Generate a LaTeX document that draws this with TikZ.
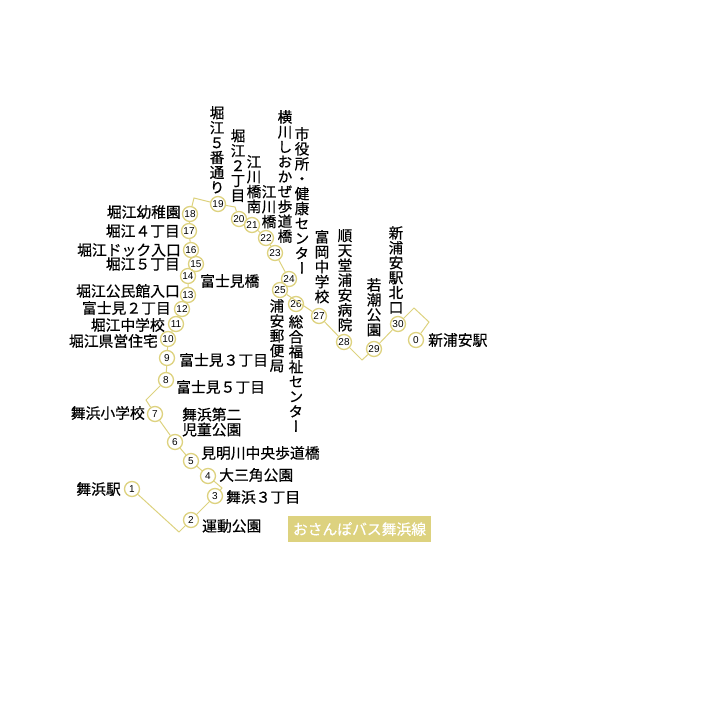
\documentclass[tikz,border=0pt]{standalone}
\usepackage{fontspec}
\newfontfamily\cjk[FakeBold=0.5]{Noto Sans CJK JP}
\newfontfamily\cjktate[RawFeature=+vert,FakeBold=0.5]{Noto Sans CJK JP}
\newfontfamily\numfont{Liberation Sans}
\definecolor{routecol}{HTML}{DDD27F}
\tikzset{
    stop/.style={draw=routecol, fill=white, circle, line width=1.3pt, minimum size=15pt, inner sep=0pt, font=\numfont\fontsize{10}{10}\selectfont},
    route/.style={draw=routecol, line width=1pt},
    yoko/.style={inner sep=0pt, font=\cjk\fontsize{14.8}{15}\selectfont, align=left},
    tate/.style={inner sep=0pt, anchor=north, font=\cjktate\fontsize{14.6}{14.9}\selectfont, align=center},
}
\begin{document}
\begin{tikzpicture}[x=1pt, y=-1pt]
    \useasboundingbox (0,0) rectangle (701,721);
    \foreach \n/\x/\y in {0/416/340, 1/132/489, 2/191/520, 3/215/496, 4/208/476, 5/191/461, 6/175/442, 7/155/414, 8/166/380, 9/167/358, 10/168/339, 11/176/324, 12/182/309, 13/188/295, 14/188/276, 15/196/264, 16/191/250, 17/189/231, 18/190/214, 19/218/204, 20/239/219, 21/252/225, 22/266/238, 23/275/253, 24/289/279, 25/280/290, 26/296/304, 27/319/316, 28/344/342, 29/374/349, 30/398/324}
        \node[stop] (s\n) at (\x,\y) {\n};
    \coordinate (c12) at (179,532);
    \coordinate (c34) at (222,488);
    \coordinate (c78) at (146,400);
    \coordinate (c1819) at (194,198);
    \coordinate (c1920) at (235,207);
    \coordinate (c2829) at (362,360);
    \coordinate (c300a) at (414,308);
    \coordinate (c300b) at (429,322);
    \draw[route] (s1) -- (c12) -- (s2) -- (s3) -- (c34) -- (s4) -- (s5) -- (s6) -- (s7) -- (c78) -- (s8) -- (s9) -- (s10) -- (s11) -- (s12) -- (s13) -- (s14) -- (s15) -- (s16) -- (s17) -- (s18) -- (c1819) -- (s19) -- (c1920) -- (s20) -- (s21) -- (s22) -- (s23) -- (s24) -- (s25) -- (s27) -- (s28) -- (c2829) -- (s29) -- (s30) -- (c300a) -- (c300b) -- (s0);
    \node[yoko, anchor=east] (lab18) at (181,212) {堀江幼稚園};
    \node[yoko, anchor=east] (lab17) at (180,231) {堀江４丁目};
    \node[yoko, anchor=east] (lab16) at (181,250) {堀江ドック入口};
    \node[yoko, anchor=east] (lab15) at (180,264) {堀江５丁目};
    \node[yoko, anchor=west] (lab14) at (200,281) {富士見橋};
    \node[yoko, anchor=east] (lab13) at (180,291) {堀江公民館入口};
    \node[yoko, anchor=east] (lab12) at (171,308) {富士見２丁目};
    \node[yoko, anchor=east] (lab11) at (165,325) {堀江中学校};
    \node[yoko, anchor=east] (lab10) at (158,341) {堀江県営住宅};
    \node[yoko, anchor=west] (lab9) at (179,360) {富士見３丁目};
    \node[yoko, anchor=west] (lab8) at (176,387) {富士見５丁目};
    \node[yoko, anchor=east] (lab7) at (145,413) {舞浜小学校};
    \node[yoko, anchor=west] (lab6) at (182,422) {舞浜第二\\児童公園};
    \node[yoko, anchor=west] (lab5) at (201,453) {見明川中央歩道橋};
    \node[yoko, anchor=west] (lab4) at (219,475) {大三角公園};
    \node[yoko, anchor=west] (lab3) at (226,497) {舞浜３丁目};
    \node[yoko, anchor=west] (lab2) at (202,526) {運動公園};
    \node[yoko, anchor=east] (lab1) at (121,489) {舞浜駅};
    \node[yoko, anchor=west] (lab0) at (428,340) {新浦安駅};
    \node[tate] (lab19) at (217,106) {堀\\江\\５\\番\\通\\り};
    \node[tate] (lab20) at (238,129) {堀\\江\\２\\丁\\目};
    \node[tate] (lab21) at (254,155) {江\\川\\橋\\南};
    \node[tate] (lab22) at (269,185) {江\\川\\橋};
    \node[tate] (lab23) at (285,110) {横\\川\\し\\お\\か\\ぜ\\歩\\道\\橋};
    \node[tate] (lab24) at (302,127) {市\\役\\所\\・\\健\\康\\セ\\ン\\タ\\ー};
    \node[tate] (lab25) at (277,299) {浦\\安\\郵\\便\\局};
    \node[tate] (lab26) at (296,315) {総\\合\\福\\祉\\セ\\ン\\タ\\ー};
    \node[tate] (lab27) at (322,230) {富\\岡\\中\\学\\校};
    \node[tate] (lab28) at (345,229) {順\\天\\堂\\浦\\安\\病\\院};
    \node[tate] (lab29) at (374,278) {若\\潮\\公\\園};
    \node[tate] (lab30) at (396,226) {新\\浦\\安\\駅\\北\\口};
    \node[fill=routecol, text=white, minimum width=143pt, minimum height=26pt, inner sep=0pt, font=\cjk\fontsize{14.8}{15}\selectfont] (linename) at (359.5,529) {おさんぽバス舞浜線};
\end{tikzpicture}
\end{document}
